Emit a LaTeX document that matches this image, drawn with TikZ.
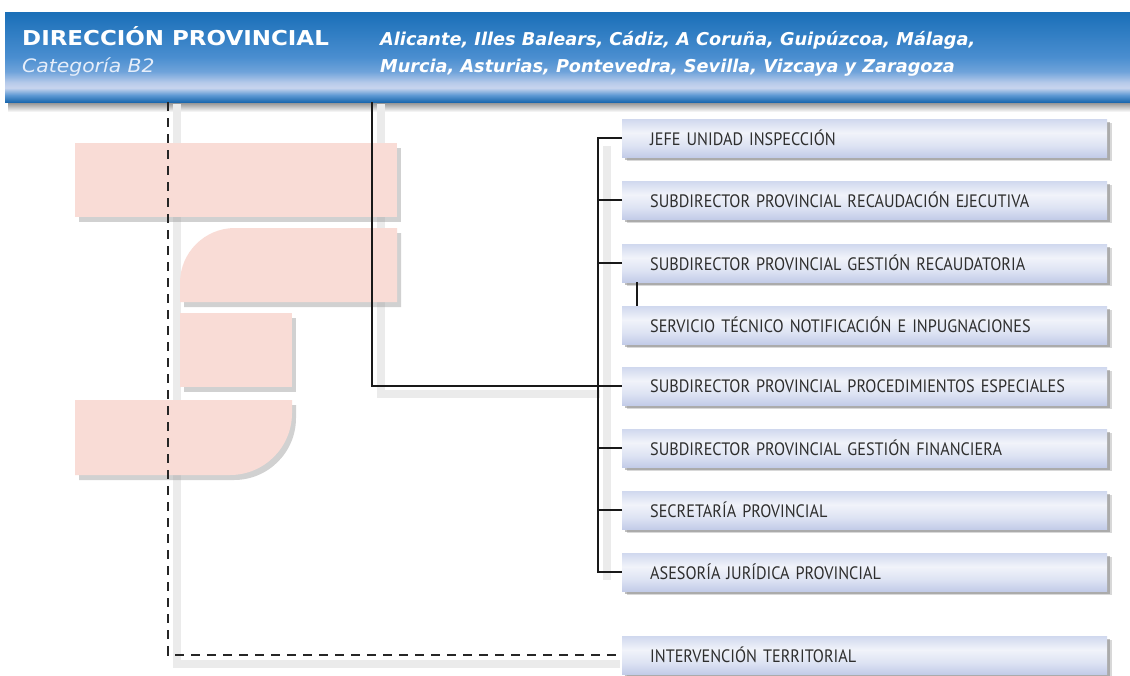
\documentclass[tikz,border=0pt]{standalone}
\usepackage{fontspec}
\setmainfont{PT Sans}
\newfontfamily\hdfont[FakeStretch=1.12]{DejaVu Sans}
\newfontfamily\catfont[FakeStretch=1.1]{DejaVu Sans}
\newfontfamily\cityfont{DejaVu Sans}
\newfontfamily\boxfont[FakeStretch=0.9]{PT Sans}
\usetikzlibrary{shadows}
\definecolor{pinkf}{HTML}{F9DCD6}
\definecolor{htop}{HTML}{1A6FB8}
\definecolor{hmid}{HTML}{4A8ED0}
\definecolor{hmid2}{HTML}{6FA3DA}
\definecolor{hpale}{HTML}{B6CAEA}
\definecolor{hlight}{HTML}{C8D5EE}
\definecolor{hlow}{HTML}{5F9AD4}
\definecolor{hbot}{HTML}{1A67AD}
\definecolor{bxt}{HTML}{D0D8EE}
\definecolor{bxb}{HTML}{C3CCE8}
\definecolor{bmid}{HTML}{DDE3F3}
\definecolor{bwhite}{HTML}{F1F3FA}
\definecolor{catc}{HTML}{E6EEFA}
\definecolor{txt}{HTML}{2E2E2E}
\pgfdeclareverticalshading{hdrsh}{100bp}{color(0bp)=(hbot); color(25bp)=(hbot); color(29bp)=(hlow); color(33bp)=(hlight); color(36bp)=(hpale); color(42bp)=(hmid2); color(50bp)=(hmid); color(75bp)=(htop); color(100bp)=(htop)}
\pgfdeclareverticalshading{boxsh}{100bp}{color(0bp)=(bxb); color(25bp)=(bxb); color(40bp)=(bmid); color(57bp)=(bwhite); color(75bp)=(bxt); color(100bp)=(bxt)}
\newcommand\pA{(75,143) rectangle (397,217)}
\newcommand\pB{(180,302) [rounded corners=55pt] -- (180,228) [sharp corners] -- (397,228) -- (397,302) -- cycle}
\newcommand\pC{(180,313) rectangle (292,387)}
\newcommand\pD{(75,400) -- (292,400) [rounded corners=62pt] -- (292,475) [sharp corners] -- (75,475) -- cycle}
\tikzset{
  orgbox/.style={anchor=west, shading=boxsh, minimum height=38pt, text width=429pt, inner xsep=28pt, align=left,
    text=txt, font=\boxfont\fontsize{18}{20}\selectfont,
    drop shadow={shadow xshift=5pt, shadow yshift=-4pt, fill=black!30, opacity=.5},
    drop shadow={shadow xshift=3pt, shadow yshift=-3pt, fill=black!50, opacity=.5}},
  conn/.style={draw=black!90, line width=1.3pt},
  dashc/.style={draw=black!85, line width=2.4pt, dash pattern=on 9pt off 7pt},
  shline/.style={draw=black!8, line width=8pt},
  pshadow/.style={fill=black!40, opacity=.45},
  htext/.style={anchor=base west, inner sep=0pt, text=white}
}
\begin{document}
\begin{tikzpicture}[x=1pt,y=-1pt]
\useasboundingbox (0,0) rectangle (1130,675);
\fill[white] (0,0) rectangle (1130,675);
% header shadow
\shade[top color=black!50, bottom color=white] (8,101) rectangle (1130,112);
% connector shadows
\draw[shline] (177,104) -- (177,664) -- (620,664);
\draw[shline] (381,104) -- (381,394) -- (600,394);
\draw[shline] (607,146) -- (607,580);
% header
\node[anchor=north west, minimum width=1125pt, minimum height=90pt, inner sep=0pt, shading=hdrsh] (hdr) at (5,12) {};
\node[htext, font=\hdfont\bfseries\fontsize{20.5}{22}\selectfont] (t1) at (22,45) {DIRECCIÓN PROVINCIAL};
\node[htext, text=catc, font=\catfont\itshape\fontsize{18.5}{20}\selectfont] (t2) at (22,72) {Categoría B2};
\node[htext, font=\cityfont\bfseries\itshape\fontsize{17.7}{20}\selectfont] (t3) at (380,45) {Alicante, Illes Balears, Cádiz, A Coruña, Guipúzcoa, Málaga,};
\node[htext, font=\cityfont\bfseries\itshape\fontsize{17.7}{20}\selectfont] (t4) at (380,72) {Murcia, Asturias, Pontevedra, Sevilla, Vizcaya y Zaragoza};
% pink logo shapes
\begin{scope}[shift={(4,5)}]
\fill[pshadow] \pA; \fill[pshadow] \pB; \fill[pshadow] \pC; \fill[pshadow] \pD;
\end{scope}
\fill[pinkf] \pA; \fill[pinkf] \pB; \fill[pinkf] \pC; \fill[pinkf] \pD;
% boxes
\node[orgbox] (b1) at (622,138) {JEFE UNIDAD INSPECCIÓN};
\node[orgbox] (b2) at (622,200) {SUBDIRECTOR PROVINCIAL RECAUDACIÓN EJECUTIVA};
\node[orgbox] (b3) at (622,263) {SUBDIRECTOR PROVINCIAL GESTIÓN RECAUDATORIA};
\node[orgbox] (b4) at (622,325) {SERVICIO TÉCNICO NOTIFICACIÓN E INPUGNACIONES};
\node[orgbox] (b5) at (622,386) {SUBDIRECTOR PROVINCIAL PROCEDIMIENTOS ESPECIALES};
\node[orgbox] (b6) at (622,448) {SUBDIRECTOR PROVINCIAL GESTIÓN FINANCIERA};
\node[orgbox] (b7) at (622,510) {SECRETARÍA PROVINCIAL};
\node[orgbox] (b8) at (622,572) {ASESORÍA JURÍDICA PROVINCIAL};
\node[orgbox] (b9) at (622,655) {INTERVENCIÓN TERRITORIAL};
% connectors
\draw[dashc] ([xshift=163pt]hdr.south west) |- (b9.west);
\draw[conn] ([xshift=367pt]hdr.south west) |- (b5.west);
\draw[conn] (b1.west) -- ++(-24,0) coordinate (bus) |- (b8.west);
\foreach \b in {b2,b3,b6,b7}{ \draw[conn] (\b.west) -- (\b.west -| bus); }
\draw[conn] ([xshift=15pt]b3.south west) -- ([xshift=15pt]b4.north west);
\end{tikzpicture}
\end{document}
